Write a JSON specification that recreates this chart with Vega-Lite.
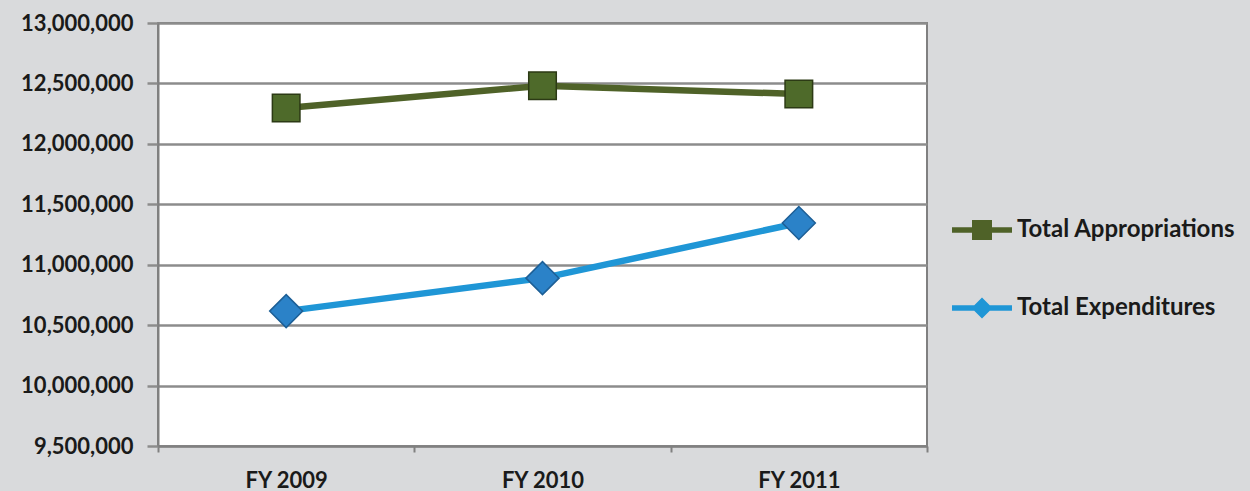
{
  "$schema": "https://vega.github.io/schema/vega-lite/v6.json",
  "autosize": "none",
  "width": 769,
  "height": 423,
  "padding": {"left": 158, "top": 23, "right": 323, "bottom": 45},
  "background": "#d9dadc",
  "config": {
    "view": {"fill": "#ffffff", "stroke": "#808080", "strokeWidth": 2},
    "font": "Lato"
  },
  "data": {
    "values": [
      {"series": "Total Appropriations", "year": "FY 2009", "value": 12297000},
      {"series": "Total Appropriations", "year": "FY 2010", "value": 12481000},
      {"series": "Total Appropriations", "year": "FY 2011", "value": 12412000},
      {"series": "Total Expenditures", "year": "FY 2009", "value": 10616000},
      {"series": "Total Expenditures", "year": "FY 2010", "value": 10889000},
      {"series": "Total Expenditures", "year": "FY 2011", "value": 11345000}
    ]
  },
  "encoding": {
    "x": {
      "field": "year", "type": "nominal",
      "scale": {"type": "band", "paddingInner": 0, "paddingOuter": 0},
      "axis": {
        "title": null, "labelAngle": 0, "labelFontSize": 22, "labelColor": "#1a1a1a",
        "labelFontWeight": "bold", "labelPadding": 18, "tickBand": "extent",
        "tickSize": 6, "tickColor": "#808080", "tickWidth": 2,
        "domainColor": "#808080", "domainWidth": 2, "grid": false
      }
    },
    "y": {
      "field": "value", "type": "quantitative",
      "scale": {"domain": [9500000, 13000000], "nice": false, "zero": false},
      "axis": {
        "title": null, "values": [9500000, 10000000, 10500000, 11000000, 11500000, 12000000, 12500000, 13000000],
        "format": ",d", "labelFontSize": 22, "labelColor": "#1a1a1a", "labelFontWeight": "bold",
        "tickSize": 11, "tickColor": "#8c8c8c", "tickWidth": 2.5, "labelPadding": 14,
        "domainColor": "#808080", "domainWidth": 2,
        "grid": true, "gridColor": "#8c8c8c", "gridWidth": 2.5
      }
    }
  },
  "layer": [
    {
      "mark": {"type": "line", "strokeWidth": 6.5},
      "encoding": {
        "color": {
          "field": "series", "type": "nominal",
          "scale": {"domain": ["Total Appropriations", "Total Expenditures"], "range": ["#4f6228", "#1f96d6"]},
          "legend": null
        }
      }
    },
    {
      "mark": {"type": "point", "filled": true, "opacity": 1, "strokeWidth": 1.5},
      "encoding": {
        "shape": {
          "field": "series", "type": "nominal",
          "scale": {"domain": ["Total Appropriations", "Total Expenditures"], "range": ["square", "diamond"]},
          "legend": null
        },
        "fill": {
          "field": "series", "type": "nominal",
          "scale": {"domain": ["Total Appropriations", "Total Expenditures"], "range": ["#4e6a2a", "#2b82c8"]},
          "legend": null
        },
        "stroke": {
          "field": "series", "type": "nominal",
          "scale": {"domain": ["Total Appropriations", "Total Expenditures"], "range": ["#2c3a15", "#1d5f96"]},
          "legend": null
        },
        "size": {
          "field": "series", "type": "nominal",
          "scale": {"domain": ["Total Appropriations", "Total Expenditures"], "range": [760, 1090]},
          "legend": null
        }
      }
    },
    {
      "mark": {"type": "point", "filled": true, "opacity": 0},
      "encoding": {
        "shape": {
          "field": "series", "type": "nominal",
          "scale": {
            "domain": ["Total Appropriations", "Total Expenditures"],
            "range": [
              "M-3,-0.28H3V0.28H-3Z M-1,-1H1V1H-1Z",
              "M-3,-0.28H3V0.28H-3Z M0,-1.05L1.05,0L0,1.05L-1.05,0Z"
            ]
          },
          "legend": {
            "title": null, "orient": "none", "legendX": 812, "legendY": 195,
            "symbolSize": 400, "symbolOpacity": 1, "symbolStrokeWidth": 0,
            "labelFontSize": 24, "labelColor": "#1a1a1a", "labelFontWeight": "bold",
            "labelOffset": 23, "rowPadding": 54, "padding": 0, "labelLimit": 400
          }
        },
        "color": {
          "field": "series", "type": "nominal",
          "scale": {"domain": ["Total Appropriations", "Total Expenditures"], "range": ["#4f6228", "#1f96d6"]},
          "legend": {
            "title": null, "orient": "none", "legendX": 812, "legendY": 195,
            "symbolSize": 400, "symbolOpacity": 1, "symbolStrokeWidth": 0,
            "labelFontSize": 24, "labelColor": "#1a1a1a", "labelFontWeight": "bold",
            "labelOffset": 23, "rowPadding": 54, "padding": 0, "labelLimit": 400
          }
        }
      }
    }
  ],
  "resolve": {"scale": {"color": "independent", "shape": "independent", "fill": "independent", "stroke": "independent", "size": "independent"}}
}
